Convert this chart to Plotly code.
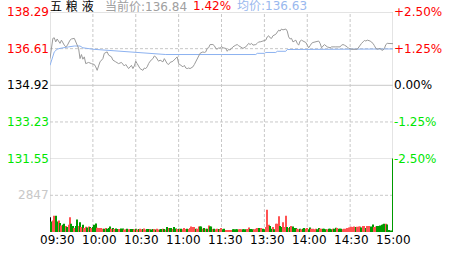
import plotly.graph_objects as go

# ---------------- data ----------------
PRE_CLOSE = 134.92
stock_name = "五 粮 液"
cur_price_text = "当前价:136.84"
cur_pct_text = "1.42%"
avg_price_text = "均价:136.63"

# minute index (0 = 09:30, 120 = 11:30/13:00, 240 = 15:00) and % change vs previous close
price_min = [0, 2, 3, 4, 5, 7, 8, 9, 10, 11, 12, 14, 15, 17, 18, 19, 20, 21, 22, 23, 24, 25, 27, 29,
             31, 32, 33, 34, 35, 37, 38, 40, 41, 43, 44, 46, 48, 50, 52, 53, 55, 57, 58, 59, 60, 61,
             62, 63, 65, 66, 67, 68, 69, 70, 72, 73, 74, 75, 76, 77, 79, 80, 81, 82, 83, 84, 86, 87,
             88, 89, 90, 91, 93, 94, 95, 96, 97, 98, 100, 101, 102, 103, 104, 105, 107, 108, 109,
             110, 111, 112, 114, 115, 116, 117, 118, 119, 120, 121, 123, 124, 125, 126, 127, 128,
             130, 131, 132, 133, 134, 135, 137, 138, 139, 140, 141, 142, 144, 145, 146, 147, 148,
             149, 151, 152, 153, 154, 155, 156, 158, 159, 160, 161, 162, 163, 165, 166, 167, 168,
             169, 170, 172, 173, 174, 175, 176, 177, 179, 180, 181, 182, 183, 184, 186, 188, 189,
             190, 192, 193, 194, 196, 197, 200, 203, 204, 205, 206, 207, 208, 209, 211, 215, 216,
             218, 219, 220, 221, 222, 224, 225, 226, 227, 228, 229, 231, 232, 233, 234, 235, 236, 240]
price_pct = [0.91, 1.60, 1.62, 1.48, 1.58, 1.43, 1.54, 1.43, 1.37, 1.31, 1.35, 1.54, 1.58, 1.60, 1.48,
             1.39, 1.26, 0.91, 1.05, 0.89, 0.97, 0.74, 0.78, 0.74, 0.71, 0.63, 0.51, 0.66, 0.80, 0.91,
             1.09, 1.14, 1.03, 0.97, 0.86, 0.80, 0.74, 0.78, 0.66, 0.71, 0.57, 0.68, 0.57, 0.66, 0.82,
             0.74, 0.63, 0.57, 0.51, 0.59, 0.57, 0.63, 0.74, 0.82, 0.91, 1.00, 0.97, 0.91, 0.82, 0.86,
             0.80, 0.91, 0.80, 0.74, 0.71, 0.78, 0.82, 0.86, 0.91, 0.97, 0.74, 0.71, 0.63, 0.68, 0.59,
             0.57, 0.59, 0.57, 0.63, 0.71, 0.80, 0.89, 1.00, 1.09, 1.14, 1.12, 1.14, 1.26, 1.28, 1.39,
             1.39, 1.35, 1.26, 1.23, 1.28, 1.26, 1.32, 1.28, 1.26, 1.16, 1.23, 1.20, 1.26, 1.31, 1.37,
             1.39, 1.35, 1.31, 1.28, 1.26, 1.31, 1.39, 1.43, 1.39, 1.43, 1.37, 1.39, 1.43, 1.48, 1.48,
             1.51, 1.51, 1.54, 1.65, 1.69, 1.62, 1.60, 1.69, 1.74, 1.83, 1.88, 1.85, 1.92, 1.89, 1.92,
             1.85, 1.65, 1.58, 1.60, 1.48, 1.54, 1.43, 1.37, 1.51, 1.54, 1.51, 1.46, 1.37, 1.28, 1.35,
             1.43, 1.46, 1.48, 1.51, 1.43, 1.28, 1.39, 1.35, 1.31, 1.28, 1.31, 1.31, 1.31, 1.37, 1.39,
             1.37, 1.35, 1.31, 1.26, 1.23, 1.23, 1.31, 1.43, 1.48, 1.53, 1.51, 1.54, 1.51, 1.48, 1.43,
             1.35, 1.26, 1.23, 1.26, 1.20, 1.20, 1.26, 1.39, 1.43, 1.42]

avg_min = [0, 2, 3, 5, 7, 13, 17, 21, 23, 30, 38, 50, 57, 61, 70, 81, 120, 144, 145, 150, 151, 158,
           159, 165, 166, 200, 240]
avg_pct = [0.68, 0.97, 1.14, 1.23, 1.26, 1.31, 1.34, 1.34, 1.28, 1.23, 1.20, 1.16, 1.14, 1.12, 1.09,
           1.05, 1.05, 1.05, 1.09, 1.09, 1.12, 1.12, 1.16, 1.16, 1.22, 1.23, 1.24]

# per-minute volume (241 bars: 09:30 .. 15:00)
volume = [
    1140, 813, 889, 1269, 1269, 813, 889, 707, 509, 555, 631, 456, 380, 555, 1140, 631, 456, 304, 456, 965,
    456, 760, 380, 555, 304, 403, 357, 433, 380, 304, 380, 555, 661, 327, 304, 205, 304, 251, 251, 304,
    251, 304, 433, 251, 304, 228, 266, 228, 228, 205, 281, 281, 190, 205, 251, 205, 205, 228, 228, 205,
    251, 190, 228, 251, 205, 228, 281, 190, 228, 228, 205, 190, 228, 228, 190, 251, 190, 190, 228, 251,
    228, 190, 380, 304, 304, 304, 228, 380, 266, 228, 251, 228, 251, 205, 304, 228, 251, 228, 304, 433,
    380, 380, 251, 251, 433, 433, 433, 251, 304, 251, 251, 509, 433, 433, 228, 251, 205, 251, 228, 205, 304,
    205, 251, 152, 152, 152, 152, 152, 205, 205, 205, 205, 205, 205, 205, 205, 205, 205, 228, 357, 228,
    228, 205, 205, 251, 304, 304, 251, 304, 251, 205, 380, 1725, 555, 456, 251, 380, 205, 631, 631, 1216,
    456, 380, 760, 380, 1269, 380, 304, 380, 456, 433, 304, 304, 251, 205, 251, 205, 251, 304, 251, 304,
    205, 357, 251, 251, 205, 251, 205, 304, 251, 251, 251, 251, 205, 205, 251, 251, 205, 251, 251, 327,
    304, 251, 251, 251, 205, 251, 251, 304, 357, 357, 403, 380, 433, 380, 403, 433, 433, 357, 456, 456,
    304, 456, 456, 380, 433, 585, 380, 433, 456, 456, 509, 555, 585, 631, 631, 585, 152, 76, 114, 9000,
]
# direction of each minute: k = opening auction, r = up, g = down
vol_dir = list(
    "kgrrggrgrggrgrrggrgg"
    "rgrgrrgrgrgggrrrrrgr"
    "gggrgrggrrggrrgrrggr"
    "grgrrgrrggrggrgrrggr"
    "grgrggrggrgrgrrrgrrr"
    "rrgrrggrgrgrggrgrrgrr"
    "ggrrrrrggggrrrgggrrg"
    "ggrrrggrggrrrggrgrrr"
    "ggrrrgrgrgggrrgrggrr"
    "ggrrrrggrrgggrgggrgg"
    "rgggrrrrrrrrrgrrrgrr"
    "grrrggrrggggggrgggg"
    "g"
)

tick_pct = [2.5, 1.25, 0.0, -1.25, -2.5]
left_tick_text = ["138.29", "136.61", "134.92", "133.23", "131.55"]
right_tick_text = ["+2.50%", "+1.25%", "0.00%", "-1.25%", "-2.50%"]
tick_colors = ["#ff0000", "#ff0000", "#000000", "#00e600", "#00e600"]
vol_tick = 2847
vol_max = 5694
time_pos = [0, 30, 60, 90, 120, 150, 180, 210, 240]
time_text = ["09:30", "10:00", "10:30", "11:00", "11:30", "13:30", "14:00", "14:30", "15:00"]

# ---------------- figure ----------------
FONT = "DejaVu Sans, Noto Sans CJK SC, sans-serif"
dir_color = {"k": "#000000", "r": "#ff5252", "g": "#009a00"}
while len(vol_dir) < len(volume):
    vol_dir.append("g")
n = len(volume)

fig = go.Figure()
fig.add_trace(go.Bar(x=list(range(n)), y=volume, yaxis="y2",
                     marker=dict(color=[dir_color[d] for d in vol_dir[:n]], line=dict(width=0)),
                     width=0.8, hoverinfo="skip"))
fig.add_trace(go.Scatter(x=avg_min, y=avg_pct, mode="lines",
                         line=dict(color="#8db2f0", width=1), hoverinfo="skip"))
fig.add_trace(go.Scatter(x=price_min, y=price_pct, mode="lines",
                         line=dict(color="#9a9a9a", width=1), hoverinfo="skip"))

GRID = "#c8c8c8"
DASH = "3px,2px"
shapes = []
for p, solid in [(2.5, True), (1.25, False), (0.0, True), (-1.25, False), (-2.5, True)]:
    shapes.append(dict(type="line", xref="x", yref="y", x0=0, x1=240, y0=p, y1=p, layer="below",
                       line=dict(color=GRID, width=1, dash="solid" if solid else DASH)))
shapes.append(dict(type="line", xref="x", yref="y2", x0=0, x1=240, y0=vol_tick, y1=vol_tick, layer="below",
                   line=dict(color=GRID, width=1, dash=DASH)))
for t in time_pos:
    edge = t in (0, 240)
    shapes.append(dict(type="line", xref="x", yref="paper", x0=t, x1=t, y0=0, y1=1, layer="below",
                       line=dict(color=GRID, width=1, dash="solid" if edge else DASH)))

ann = []
for p, lt, rt, c in zip(tick_pct, left_tick_text, right_tick_text, tick_colors):
    ann.append(dict(xref="paper", yref="y", x=0, y=p, text=lt, showarrow=False, xanchor="right",
                    yanchor="middle", xshift=1, font=dict(family=FONT, size=12, color=c)))
    ann.append(dict(xref="paper", yref="y", x=1, y=p, text=rt, showarrow=False, xanchor="left",
                    yanchor="middle", xshift=-1, font=dict(family=FONT, size=12, color=c)))
ann.append(dict(xref="paper", yref="y2", x=0, y=vol_tick, text=str(vol_tick), showarrow=False,
                xanchor="right", yanchor="middle", xshift=1, font=dict(family=FONT, size=12, color="#c8c8c8")))
for i, (t, s) in enumerate(zip(time_pos, time_text)):
    ann.append(dict(xref="x", yref="paper", x=t, y=0, text=s, showarrow=False, xanchor="center",
                    yanchor="top", xshift=7.5 * (1 - i / 8), yshift=1,
                    font=dict(family=FONT, size=12, color="#000000")))
title_parts = [(stock_name, "#000000", 0), (cur_price_text, "#a0a0a0", 55),
               (cur_pct_text, "#ff0000", 143), (avg_price_text, "#99b8ee", 187)]
for s, c, dx in title_parts:
    ann.append(dict(xref="paper", yref="paper", x=0, y=1, text=s, showarrow=False, xanchor="left",
                    yanchor="middle", xshift=dx - 2, yshift=6,
                    font=dict(family=FONT, size=12, color=c)))

fig.update_layout(
    width=463, height=255, margin=dict(l=50, r=70, t=12, b=23),
    paper_bgcolor="#ffffff", plot_bgcolor="#ffffff", showlegend=False, bargap=0.2,
    xaxis=dict(range=[0, 240], visible=False, anchor="y2", fixedrange=True),
    yaxis=dict(domain=[0.3336, 1], range=[-2.5, 2.5], visible=False, fixedrange=True),
    yaxis2=dict(domain=[0, 0.3336], range=[0, vol_max], visible=False, fixedrange=True),
    shapes=shapes, annotations=ann,
)
fig.write_html("out.html")
